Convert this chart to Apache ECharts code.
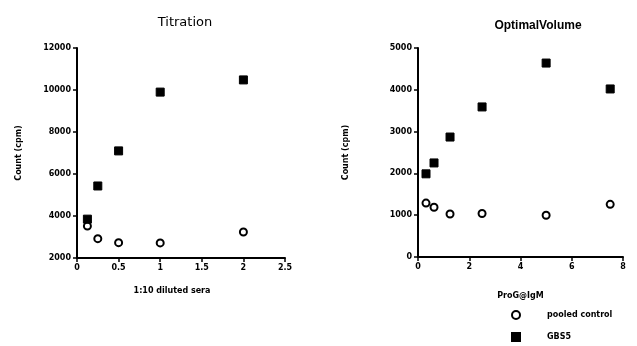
<!DOCTYPE html>
<html>
<head>
<meta charset="utf-8">
<script src="https://cdn.jsdelivr.net/npm/echarts@6/dist/echarts.min.js"></script>
<style>
  html, body { margin: 0; padding: 0; background: #fff; }
  #chart { width: 637px; height: 346px; }
</style>
</head>
<body>
<div id="chart"></div>
<script>
// Titration (left panel)
const titrationX = [0.125, 0.25, 0.5, 1, 2];
const titrationPooled = [3520, 2920, 2730, 2720, 3240];
const titrationGBS5 = [3850, 5430, 7100, 9900, 10480];

// OptimalVolume (right panel)
const volumeX = [0.3125, 0.625, 1.25, 2.5, 5, 7.5];
const volumePooled = [1290, 1190, 1030, 1040, 1000, 1260];
const volumeGBS5 = [1990, 2250, 2870, 3590, 4640, 4020];

const seriesNames = ['pooled control', 'GBS5'];

const pairs = (xs, ys) => xs.map((x, i) => [x, ys[i]]);

const tickFont = { color: '#000', fontSize: 8, fontWeight: 'bold', fontFamily: 'DejaVu Sans' };
const nameFont = { color: '#000', fontSize: 8, fontWeight: 'bold', fontFamily: 'DejaVu Sans' };

const axisBase = {
  axisLine: { show: true, onZero: false, lineStyle: { color: '#000', width: 2 } },
  axisTick: { show: true, inside: false, length: 4, lineStyle: { color: '#000', width: 1.5 } },
  axisLabel: Object.assign({ margin: 6, formatter: v => String(v) }, tickFont),
  splitLine: { show: false }
};

const circleStyle = { color: '#fff', borderColor: '#000', borderWidth: 2, opacity: 1 };
const squareStyle = { color: '#000', borderColor: '#000', borderWidth: 1, opacity: 1 };

const chart = echarts.init(document.getElementById('chart'), null, { renderer: 'canvas' });
chart.setOption({
  animation: false,
  backgroundColor: '#fff',
  title: [
    { text: 'Titration', left: 180, top: 11, textAlign: 'center',
      textStyle: { fontSize: 13, fontWeight: 'normal', fontFamily: 'DejaVu Sans', color: '#000' } },
    { text: 'OptimalVolume', left: 533, top: 15, textAlign: 'center',
      textStyle: { fontSize: 12, fontWeight: 'bold', fontFamily: 'Liberation Sans', color: '#000' } }
  ],
  grid: [
    { left: 77, right: 352, top: 48, bottom: 88 },
    { left: 418, right: 14, top: 48, bottom: 89 }
  ],
  xAxis: [
    Object.assign({}, axisBase, {
      gridIndex: 0, type: 'value', min: 0, max: 2.5, interval: 0.5,
      name: '1:10 diluted sera', nameLocation: 'middle', nameGap: 29,
      nameTextStyle: Object.assign({ padding: [0, 18, 0, 0] }, nameFont)
    }),
    Object.assign({}, axisBase, {
      gridIndex: 1, type: 'value', min: 0, max: 8, interval: 2,
      name: 'ProG@IgM', nameLocation: 'middle', nameGap: 35,
      nameTextStyle: nameFont
    })
  ],
  yAxis: [
    Object.assign({}, axisBase, {
      gridIndex: 0, type: 'value', min: 2000, max: 12000, interval: 2000,
      name: 'Count (cpm)', nameLocation: 'middle', nameGap: 54,
      nameTextStyle: nameFont
    }),
    Object.assign({}, axisBase, {
      gridIndex: 1, type: 'value', min: 0, max: 5000, interval: 1000,
      name: 'Count (cpm)', nameLocation: 'middle', nameGap: 68,
      nameTextStyle: nameFont
    })
  ],
  legend: {
    orient: 'vertical', left: 506, top: 305, height: 60, itemGap: 12,
    itemWidth: 8, itemHeight: 8,
    data: [
      { name: seriesNames[0], icon: 'circle' },
      { name: seriesNames[1], icon: 'rect' }
    ],
    textStyle: Object.assign({ padding: [0, 0, 0, 22] }, nameFont)
  },
  series: [
    { name: seriesNames[0], type: 'scatter', xAxisIndex: 0, yAxisIndex: 0,
      symbol: 'circle', symbolSize: 7, itemStyle: circleStyle, data: pairs(titrationX, titrationPooled) },
    { name: seriesNames[1], type: 'scatter', xAxisIndex: 0, yAxisIndex: 0,
      symbol: 'rect', symbolSize: 8, itemStyle: squareStyle, data: pairs(titrationX, titrationGBS5) },
    { name: seriesNames[0], type: 'scatter', xAxisIndex: 1, yAxisIndex: 1,
      symbol: 'circle', symbolSize: 7, itemStyle: circleStyle, data: pairs(volumeX, volumePooled) },
    { name: seriesNames[1], type: 'scatter', xAxisIndex: 1, yAxisIndex: 1,
      symbol: 'rect', symbolSize: 8, itemStyle: squareStyle, data: pairs(volumeX, volumeGBS5) }
  ]
});
</script>
</body>
</html>
